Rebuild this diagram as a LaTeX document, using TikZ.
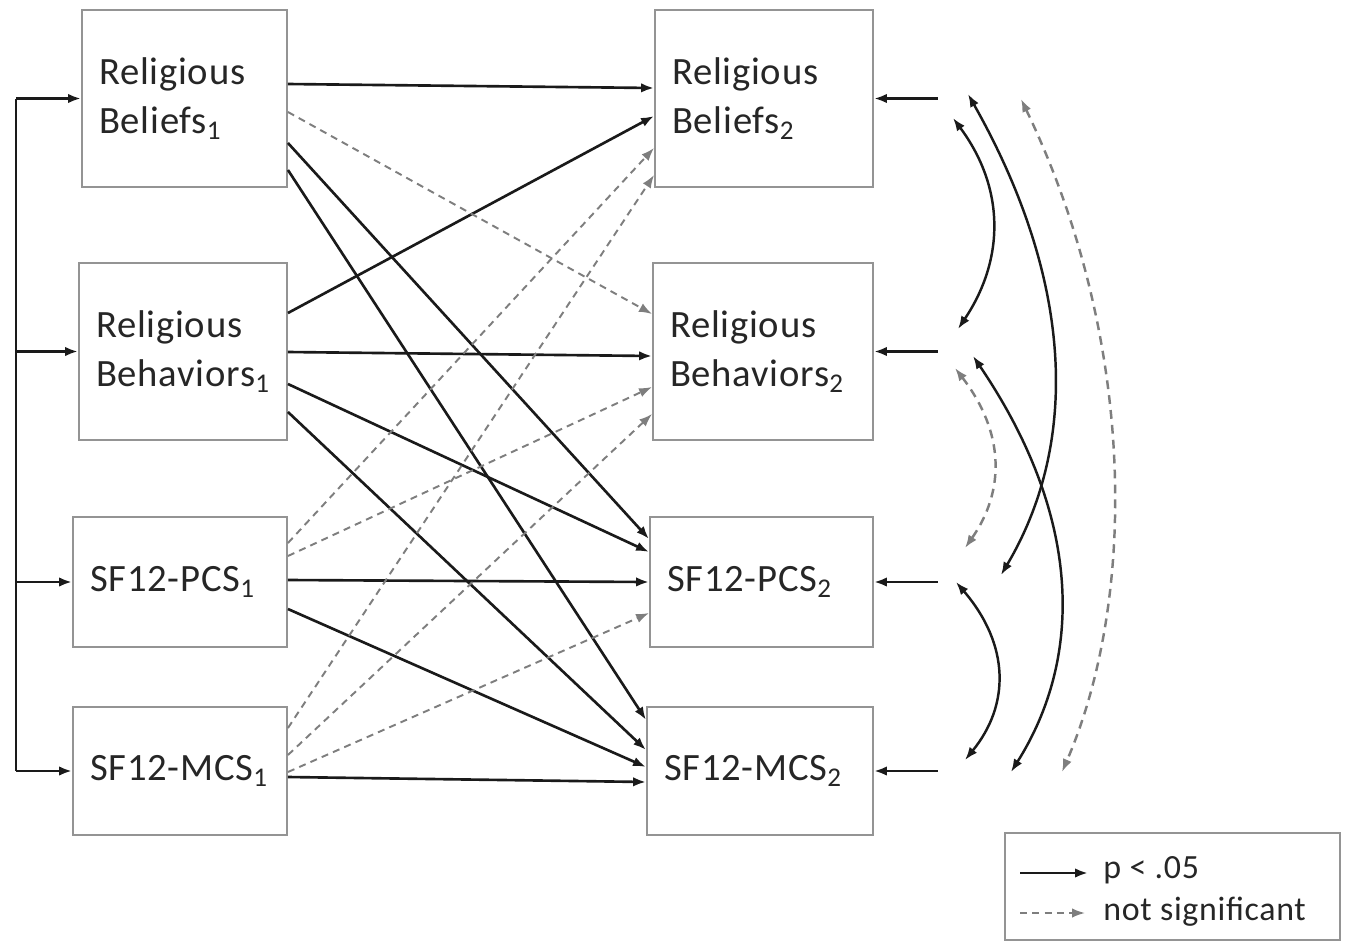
\documentclass[tikz,border=0pt]{standalone}
\usepackage{fontspec}
\setmainfont[LetterSpace=2]{Carlito}
\usetikzlibrary{arrows.meta}
\definecolor{inkdark}{HTML}{1A1A1A}
\definecolor{txtdark}{HTML}{262626}
\definecolor{boxgray}{HTML}{949494}
\definecolor{dashgray}{HTML}{7E7E7E}

\begin{document}
\begin{tikzpicture}[
    x=0.02cm,y=-0.02cm,
    var/.style={draw=boxgray,line width=1.1pt,inner xsep=0.34cm,align=left,
                text=txtdark,font=\fontsize{22}{28}\selectfont},
    sig/.style={-{Latex[length=2.6mm,width=1.9mm]},line width=1.5pt,inkdark},
    nonsig/.style={-{Latex[length=2.6mm,width=1.9mm]},line width=1.1pt,dashgray,
                   dash pattern=on 4pt off 3pt},
    cov/.style={{Latex[length=2.6mm,width=1.9mm]}-{Latex[length=2.6mm,width=1.9mm]},
                line width=1.4pt,inkdark},
    covns/.style={cov,dashgray,dash pattern=on 5pt off 3.5pt},
    key/.style={font=\fontsize{19.3}{24}\selectfont,text=txtdark,inner sep=0pt,anchor=west}
  ]
    \useasboundingbox (0,0) rectangle (1349,944);

    % time 1
    \node[var,text width=3.42cm,minimum height=3.54cm] (bel1) at (184.5,98.5) {Religious\\Beliefs\textsubscript{1}};
    \node[var,text width=3.48cm,minimum height=3.54cm] (beh1) at (183,351.5) {Religious\\Behaviors\textsubscript{1}};
    \node[var,text width=3.60cm,minimum height=2.60cm] (pcs1) at (180,582) {SF12-PCS\textsubscript{1}};
    \node[var,text width=3.60cm,minimum height=2.56cm] (mcs1) at (180,771) {SF12-MCS\textsubscript{1}};

    % time 2
    \node[var,text width=3.68cm,minimum height=3.54cm] (bel2) at (764,98.5) {Religious\\Beliefs\textsubscript{2}};
    \node[var,text width=3.72cm,minimum height=3.54cm] (beh2) at (763,351.5) {Religious\\Behaviors\textsubscript{2}};
    \node[var,text width=3.78cm,minimum height=2.60cm] (pcs2) at (761.5,582) {SF12-PCS\textsubscript{2}};
    \node[var,text width=3.84cm,minimum height=2.56cm] (mcs2) at (760,771) {SF12-MCS\textsubscript{2}};

    % correlated time 1 variables
    \coordinate (top) at (16,98.5);
    \coordinate (bot) at (16,771);
    \draw[inkdark,line width=1.5pt] (top) -- (bot);
    \draw[sig] (top) -- (bel1.west);
    \draw[sig] (beh1.west -| top) -- (beh1.west);
    \draw[sig] (pcs1.west -| top) -- (pcs1.west);
    \draw[sig] (bot) -- (mcs1.west);

    % significant paths
    \draw[sig] ([yshift=0.29cm]bel1.east) -- ([yshift=0.21cm]bel2.west);
    \draw[sig] ([yshift=-0.89cm]bel1.east) -- ([yshift=0.86cm]pcs2.west);
    \draw[sig] ([yshift=-1.43cm]bel1.east) -- ([yshift=1.02cm]mcs2.west);
    \draw[sig] ([yshift=0.77cm]beh1.east) -- ([yshift=-0.35cm]bel2.west);
    \draw[sig] ([yshift=-0.01cm]beh1.east) -- ([yshift=-0.09cm]beh2.west);
    \draw[sig] ([yshift=-0.65cm]beh1.east) -- ([yshift=0.60cm]pcs2.west);
    \draw[sig] ([yshift=-1.21cm]beh1.east) -- ([yshift=0.42cm]mcs2.west);
    \draw[sig] ([yshift=0.04cm]pcs1.east) -- (pcs2.west);
    \draw[sig] ([yshift=-0.54cm]pcs1.east) -- ([yshift=0.08cm]mcs2.west);
    \draw[sig] ([yshift=-0.12cm]mcs1.east) -- ([yshift=-0.22cm]mcs2.west);

    % non-significant paths
    \draw[nonsig] ([yshift=-0.27cm]bel1.east) -- ([yshift=0.75cm]beh2.west);
    \draw[nonsig] ([yshift=0.78cm]pcs1.east) -- ([yshift=-0.99cm]bel2.west);
    \draw[nonsig] ([yshift=0.52cm]pcs1.east) -- ([yshift=-0.71cm]beh2.west);
    \draw[nonsig] ([yshift=0.86cm]mcs1.east) -- ([yshift=-1.53cm]bel2.west);
    \draw[nonsig] ([yshift=0.32cm]mcs1.east) -- ([yshift=-1.25cm]beh2.west);
    \draw[nonsig] ([yshift=-0.02cm]mcs1.east) -- ([yshift=-0.62cm]pcs2.west);

    % residuals
    \coordinate (ebel) at ([xshift=1.28cm]bel2.east);
    \coordinate (ebeh) at ([xshift=1.28cm]beh2.east);
    \coordinate (epcs) at ([xshift=1.28cm]pcs2.east);
    \coordinate (emcs) at ([xshift=1.28cm]mcs2.east);
    \draw[sig] (ebel) -- (bel2.east);
    \draw[sig] (ebeh) -- (beh2.east);
    \draw[sig] (epcs) -- (pcs2.east);
    \draw[sig] (emcs) -- (mcs2.east);

    % residual covariances
    \coordinate (a1) at (953,118);  \coordinate (a2) at (958,329);
    \coordinate (b1) at (968,94);   \coordinate (b2) at (1001,575);
    \coordinate (c1) at (1021,99);  \coordinate (c2) at (1062,772);
    \coordinate (d1) at (955,368);  \coordinate (d2) at (965,548);
    \coordinate (f1) at (973,356);  \coordinate (f2) at (1011,772);
    \coordinate (g1) at (956,582);  \coordinate (g2) at (965,760);
    \draw[cov] (a1) .. controls (1005,188) and (1005,259) .. (a2);
    \draw[cov] (b1) .. controls (1077,287) and (1077,447) .. (b2);
    \draw[covns] (c1) .. controls (1137,340) and (1137,599) .. (c2);
    \draw[covns] (d1) .. controls (1005,433) and (1005,491) .. (d2);
    \draw[cov] (f1) .. controls (1083,518) and (1083,658) .. (f2);
    \draw[cov] (g1) .. controls (1010,645) and (1010,705) .. (g2);

    % legend
    \node[draw=boxgray,line width=1.1pt,minimum width=6.7cm,minimum height=2.14cm] (legend) at (1172.5,886.5) {};
    \node[key] (ksig) at (1103,870) {p < .05};
    \node[key] (kns) at (1103,912) {not significant};
    \coordinate (ksig0) at (1020,873);
    \coordinate (kns0) at (1020,913);
    \draw[sig] (ksig0) -- ([xshift=-0.3cm]ksig.west |- ksig0);
    \draw[nonsig] (kns0) -- ([xshift=-0.36cm]kns.west |- kns0);
\end{tikzpicture}
\end{document}
